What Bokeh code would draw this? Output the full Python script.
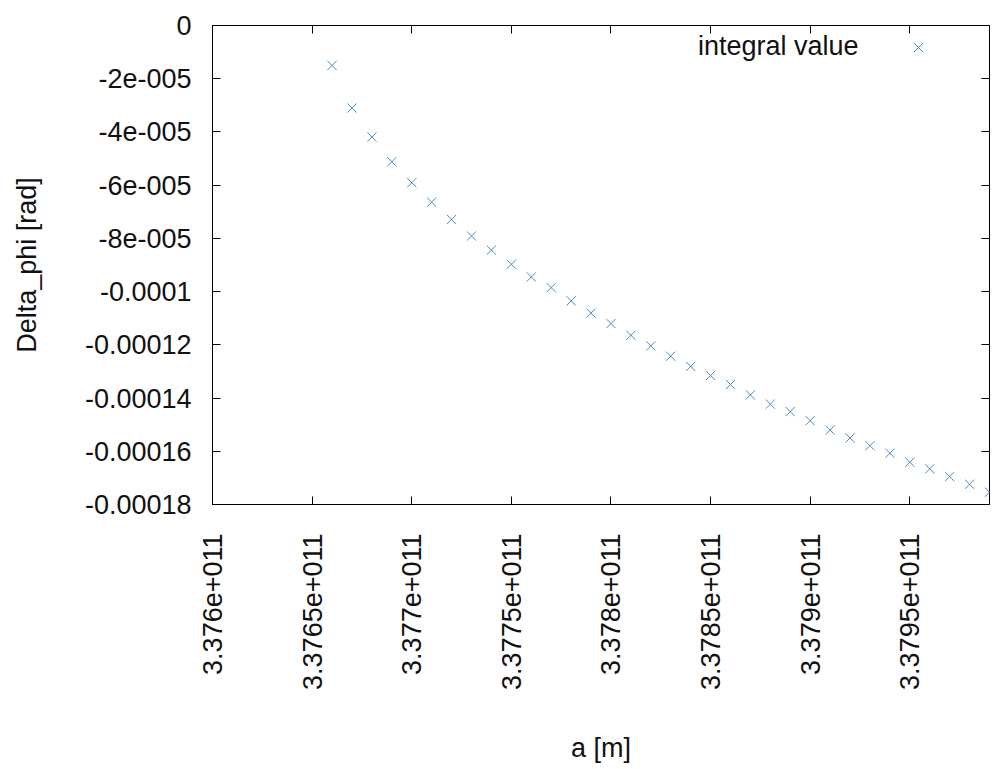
from bokeh.plotting import figure
from bokeh.models import (Range1d, FixedTicker, LinearAxis, Legend, LegendItem, Label,
                          CustomLabelingPolicy)
from bokeh.embed import file_html
from bokeh.resources import INLINE
import math

# ---- data ----
a_m = [3.3766e11, 3.3767e11, 3.3768e11, 3.3769e11, 3.3770e11, 3.3771e11,
       3.3772e11, 3.3773e11, 3.3774e11, 3.3775e11, 3.3776e11, 3.3777e11,
       3.3778e11, 3.3779e11, 3.3780e11, 3.3781e11, 3.3782e11, 3.3783e11,
       3.3784e11, 3.3785e11, 3.3786e11, 3.3787e11, 3.3788e11, 3.3789e11,
       3.3790e11, 3.3791e11, 3.3792e11, 3.3793e11, 3.3794e11, 3.3795e11,
       3.3796e11, 3.3797e11, 3.3798e11, 3.3799e11]
delta_phi = [-1.50e-5, -3.10e-5, -4.19e-5, -5.12e-5, -5.91e-5, -6.64e-5,
             -7.29e-5, -7.91e-5, -8.44e-5, -8.97e-5, -9.45e-5, -9.85e-5,
             -1.035e-4, -1.081e-4, -1.120e-4, -1.164e-4, -1.204e-4, -1.243e-4,
             -1.281e-4, -1.315e-4, -1.349e-4, -1.388e-4, -1.423e-4, -1.451e-4,
             -1.485e-4, -1.520e-4, -1.550e-4, -1.579e-4, -1.6075e-4, -1.641e-4,
             -1.666e-4, -1.695e-4, -1.724e-4, -1.754e-4]
series_name = "integral value"

x_ticks = [3.376e11, 3.3765e11, 3.377e11, 3.3775e11, 3.378e11, 3.3785e11, 3.379e11, 3.3795e11]
x_tick_labels = ["3.376e+011", "3.3765e+011", "3.377e+011", "3.3775e+011",
                 "3.378e+011", "3.3785e+011", "3.379e+011", "3.3795e+011"]
y_ticks = [0.0, -2e-05, -4e-05, -6e-05, -8e-05, -0.0001, -0.00012, -0.00014, -0.00016, -0.00018]
y_tick_labels = ["0", "-2e-005", "-4e-005", "-6e-005", "-8e-005", "-0.0001",
                 "-0.00012", "-0.00014", "-0.00016", "-0.00018"]
x_range = (3.376e11, 3.3799e11)
y_range = (-0.00018, 0.0)

FONT = "Liberation Sans"
FS = "27px"
COLOR = "#4a8cc4"

p = figure(width=995, height=765, output_backend="svg", toolbar_location=None,
           x_range=Range1d(*x_range), y_range=Range1d(*y_range),
           min_border_left=212, min_border_top=25, min_border_right=6,
           min_border_bottom=260)
p.xgrid.visible = False
p.ygrid.visible = False
p.outline_line_color = "black"
p.outline_line_width = 1
p.background_fill_color = "white"
p.border_fill_color = "white"

r = p.scatter(a_m, delta_phi, marker="x", size=13, line_color=COLOR, line_width=1)

hide_all = CustomLabelingPolicy(code="""
for (const i of Array.from(indices)) { indices.unset(i) }
return indices
""")

def style(ax, ticks, labels, show):
    ax.ticker = FixedTicker(ticks=ticks)
    ax.major_tick_in = 8
    ax.major_tick_out = 0
    ax.minor_tick_in = 0
    ax.minor_tick_out = 0
    ax.major_tick_line_color = "black"
    ax.axis_line_color = "black"
    ax.major_label_text_font = FONT
    ax.major_label_text_color = "#111111"
    ax.axis_label_text_font = FONT
    ax.axis_label_text_font_style = "normal"
    ax.axis_label_text_font_size = FS
    ax.axis_label_text_color = "#111111"
    if show:
        ax.major_label_overrides = dict(zip(ticks, labels))
        ax.major_label_text_font_size = FS
    else:
        ax.major_label_policy = hide_all
        ax.major_label_text_font_size = "0px"
        ax.major_label_standoff = 0
        ax.axis_line_color = None

xa = p.xaxis[0]
style(xa, x_ticks, x_tick_labels, True)
xa.major_label_orientation = math.pi / 2
xa.major_label_standoff = 29
xa.axis_label = "a [m]"
xa.axis_label_standoff = 40

ya = p.yaxis[0]
style(ya, y_ticks, y_tick_labels, True)
ya.major_label_standoff = 21
ya.axis_label = "Delta_phi [rad]"
ya.axis_label_standoff = 40

top_ax = LinearAxis()
style(top_ax, x_ticks, x_tick_labels, False)
p.add_layout(top_ax, "above")
right_ax = LinearAxis()
style(right_ax, y_ticks, y_tick_labels, False)
p.add_layout(right_ax, "right")

legend = Legend(items=[LegendItem(label=" ", renderers=[r])], location=(690, 441),
                padding=0, margin=0, spacing=0, glyph_width=32, glyph_height=32,
                label_standoff=0, label_text_font_size="10px",
                border_line_color=None, background_fill_alpha=0)
p.add_layout(legend)

p.add_layout(Label(x=646, y=459, x_units="screen", y_units="screen", text=series_name,
                   text_align="right", text_baseline="middle", text_font=FONT,
                   text_font_size=FS, text_color="#111111"))

open("out.html", "w").write(file_html(p, INLINE))
